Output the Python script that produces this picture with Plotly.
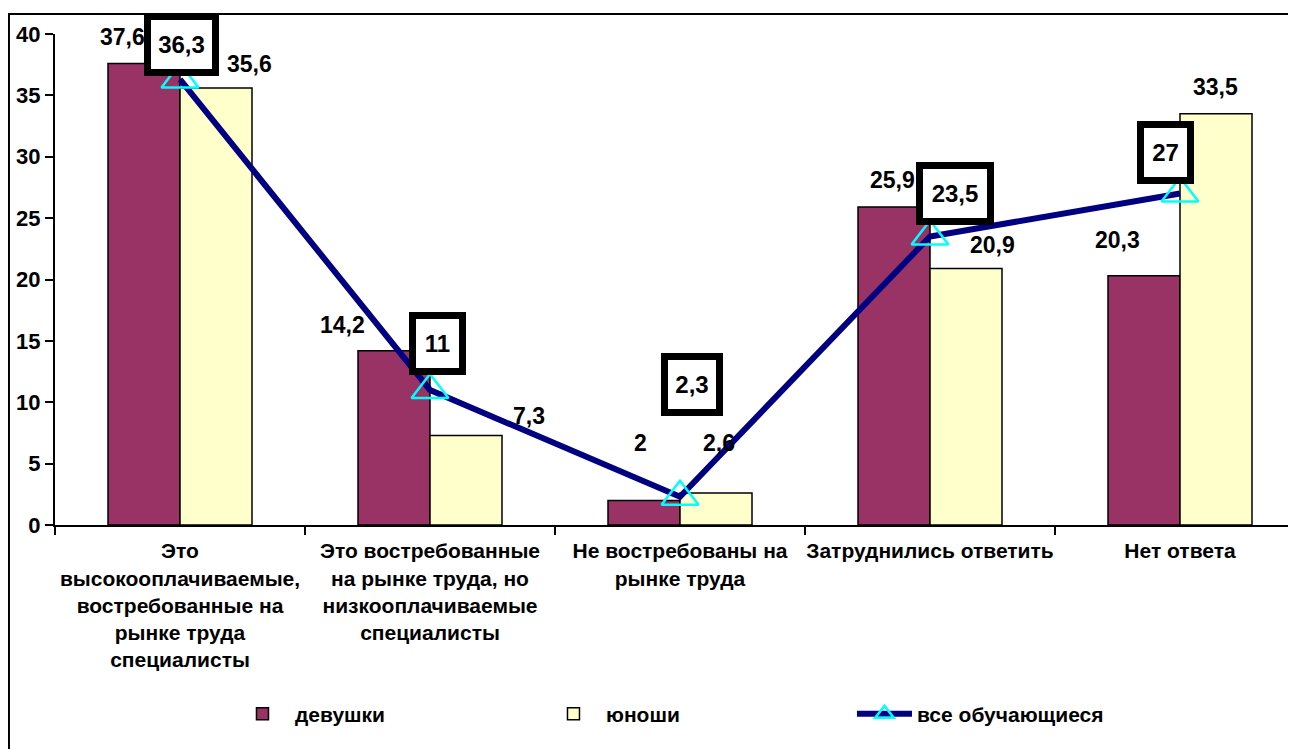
import plotly.graph_objects as go

КАТЕГОРИИ = [
    "Это<br>высокооплачиваемые,<br>востребованные на<br>рынке труда<br>специалисты",
    "Это востребованные<br>на рынке труда, но<br>низкооплачиваемые<br>специалисты",
    "Не востребованы на<br>рынке труда",
    "Затруднились ответить",
    "Нет ответа",
]
ДЕВУШКИ = [37.6, 14.2, 2.0, 25.9, 20.3]
ЮНОШИ = [35.6, 7.3, 2.6, 20.9, 33.5]
ВСЕ = [36.3, 11.0, 2.3, 23.5, 27.0]
ДЕЛЕНИЯ_Y = [0, 5, 10, 15, 20, 25, 30, 35, 40]

# Смещения подписей (в пикселях), как в оригинале
СДВИГ_ДЕВ = [(-22, 26), (-52, 26), (-4, 57), (-2, 27), (-27, 36)]
СДВИГ_ЮН = [(33, 24), (63, 19), (3, 50), (26, 23), (-1, 27)]
СДВИГ_ВСЕ = [(1, 35), (7, 46), (12, 112), (25, 43), (-15, 41)]
ШИРИНА_РАМКИ = [55, 37, 42, 58, 37]

ШРИФТ = "Liberation Sans, Arial, sans-serif"
ПОЛБАРА = 36


def подпись(v):
    return f"{v:g}".replace(".", ",")


def main():
    idx = list(range(len(КАТЕГОРИИ)))

    fig = go.Figure()

    fig.add_trace(go.Bar(
        x=КАТЕГОРИИ, y=ДЕВУШКИ, name="девушки",
        marker_color="#993366",
        marker_line_color="black", marker_line_width=1.5,
    ))
    fig.add_trace(go.Bar(
        x=КАТЕГОРИИ, y=ЮНОШИ, name="юноши",
        marker_color="#FFFFCC",
        marker_line_color="black", marker_line_width=1.5,
    ))
    fig.add_trace(go.Scatter(
        x=КАТЕГОРИИ, y=ВСЕ, name="все обучающиеся",
        mode="lines+markers",
        line=dict(color="#000080", width=6),
        marker=dict(symbol="triangle-up-open", size=32,
                    color="#00FFFF", line=dict(color="#00FFFF", width=2.5)),
    ))

    annotations = []
    for i in idx:
        dx, dy = СДВИГ_ДЕВ[i]
        annotations.append(dict(
            x=i, y=ДЕВУШКИ[i], xref="x", yref="y",
            text=подпись(ДЕВУШКИ[i]), showarrow=False,
            xshift=-ПОЛБАРА + dx, yshift=dy,
            font=dict(family=ШРИФТ, size=23, color="black", weight="bold"),
        ))
        dx, dy = СДВИГ_ЮН[i]
        annotations.append(dict(
            x=i, y=ЮНОШИ[i], xref="x", yref="y",
            text=подпись(ЮНОШИ[i]), showarrow=False,
            xshift=ПОЛБАРА + dx, yshift=dy,
            font=dict(family=ШРИФТ, size=23, color="black", weight="bold"),
        ))
        dx, dy = СДВИГ_ВСЕ[i]
        annotations.append(dict(
            x=i, y=ВСЕ[i], xref="x", yref="y",
            text=подпись(ВСЕ[i]), showarrow=False,
            xshift=dx, yshift=dy,
            width=ШИРИНА_РАМКИ[i], height=43,
            bgcolor="white", bordercolor="black",
            borderwidth=7, borderpad=3,
            font=dict(family=ШРИФТ, size=24, color="black", weight="bold"),
        ))

    fig.update_xaxes(
        type="category",
        range=[-0.5, -0.5 + 1241 / 250],
        tickson="boundaries",
        tickangle=0,
        ticklabelstandoff=6,
        ticks="outside", ticklen=8, tickwidth=2, tickcolor="black",
        showline=True, linecolor="black", linewidth=2,
        showgrid=False, zeroline=False,
        tickfont=dict(family=ШРИФТ, size=21, color="black", weight="bold"),
    )
    fig.update_yaxes(
        range=[0, 40],
        tickvals=ДЕЛЕНИЯ_Y,
        ticks="outside", ticklen=8, tickwidth=2, tickcolor="black",
        showline=True, linecolor="black", linewidth=2,
        showgrid=False, zeroline=False,
        tickfont=dict(family=ШРИФТ, size=22, color="black", weight="bold"),
    )

    # страница отступает на 8px, поэтому поля уменьшены на 8px
    fig.update_layout(
        width=1296, height=749,
        barmode="group",
        bargap=0.424, bargroupgap=0,
        plot_bgcolor="white", paper_bgcolor="white",
        margin=dict(l=47, r=8, t=26, b=232, autoexpand=False),
        font=dict(family=ШРИФТ, color="black"),
        showlegend=True,
        legend=dict(
            orientation="h",
            x=0.141, xanchor="left",
            y=-0.385, yanchor="middle",
            itemwidth=55,
            entrywidth=241, entrywidthmode="pixels",
            font=dict(family=ШРИФТ, size=21, color="black", weight="bold"),
            itemclick=False,
        ),
        annotations=annotations,
        shapes=[dict(
            type="rect", xref="paper", yref="paper",
            x0=-0.0371, x1=1.1, y0=-0.6, y1=1.0407,
            line=dict(color="black", width=2),
        )],
    )

    fig.write_html("out.html")


if __name__ == "__main__":
    main()
